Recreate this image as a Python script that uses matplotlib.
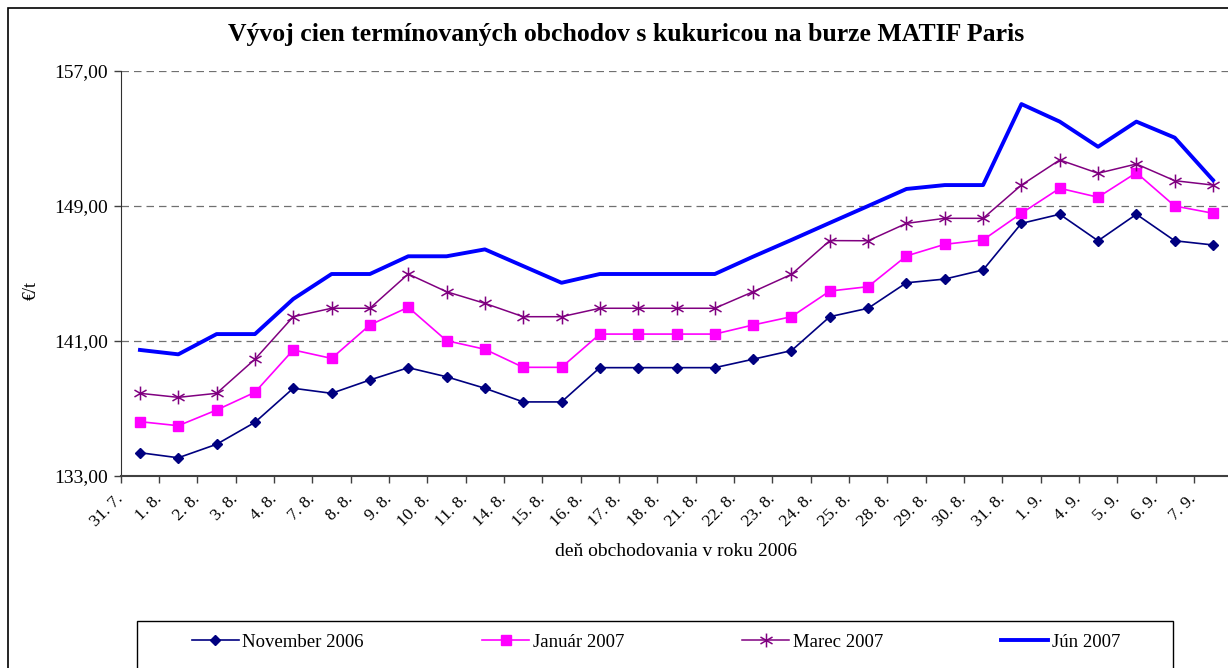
import matplotlib
matplotlib.use("Agg")
import matplotlib.pyplot as plt
from matplotlib.path import Path
from matplotlib.patches import Rectangle

# ---------------------------------------------------------------
# data (EUR/t)
# ---------------------------------------------------------------
dni = ["31. 7.", "1. 8.", "2. 8.", "3. 8.", "4. 8.", "7. 8.", "8. 8.", "9. 8.",
       "10. 8.", "11. 8.", "14. 8.", "15. 8.", "16. 8.", "17. 8.", "18. 8.",
       "21. 8.", "22. 8.", "23. 8.", "24. 8.", "25. 8.", "28. 8.", "29. 8.",
       "30. 8.", "31. 8.", "1. 9.", "4. 9.", "5. 9.", "6. 9.", "7. 9."]

november_2006 = [134.38, 134.08, 134.88, 136.18, 138.20, 137.90, 138.69, 139.42,
                 138.88, 138.20, 137.39, 137.39, 139.42, 139.42, 139.42, 139.42,
                 139.92, 140.43, 142.44, 142.94, 144.45, 144.67, 145.21, 147.97,
                 148.51, 146.94, 148.51, 146.94, 146.69]

januar_2007 = [136.22, 135.98, 136.91, 137.96, 140.47, 139.97, 141.95, 143.00,
               141.02, 140.51, 139.44, 139.44, 141.41, 141.41, 141.41, 141.41,
               141.95, 142.44, 143.96, 144.22, 146.04, 146.73, 146.99, 148.57,
               150.05, 149.52, 150.97, 149.00, 148.57]

marec_2007 = [137.90, 137.66, 137.90, 139.92, 142.44, 142.94, 142.94, 144.97,
              143.92, 143.23, 142.44, 142.44, 142.94, 142.94, 142.94, 142.94,
              143.92, 144.95, 146.95, 146.94, 147.97, 148.27, 148.27, 150.24,
              151.73, 150.94, 151.49, 150.50, 150.24]

jun_2007 = [140.47, 140.21, 141.41, 141.41, 143.49, 144.97, 144.97, 146.02,
            146.02, 146.43, 145.44, 144.45, 144.97, 144.97, 144.97, 144.97,
            146.00, 146.99, 148.00, 149.00, 150.01, 150.24, 150.24, 155.04,
            154.00, 152.51, 154.00, 153.05, 150.53]

y_ticks = [133, 141, 149, 157]

# ---------------------------------------------------------------
plt.rcParams["font.family"] = ["Liberation Serif", "DejaVu Serif"]

W, H = 1228, 668
fig = plt.figure(figsize=(W / 100, H / 100), dpi=100, facecolor="white")

# outer chart frame (cut off on the right and at the bottom like the original)
fig.patches.append(Rectangle((8 / W, -0.1), 1.1, 1.1 - 8 / H,
                             transform=fig.transFigure, fill=False,
                             edgecolor="black", linewidth=1.2))

ax = fig.add_axes([120.8 / W, (H - 476) / H, 1111.4 / W, 405 / H])
x = list(range(len(dni)))

# asterisk marker like Excel
star = Path([(0, -1), (0, 1), (-0.87, -0.5), (0.87, 0.5), (-0.87, 0.5), (0.87, -0.5)],
            [Path.MOVETO, Path.LINETO] * 3)

ax.plot(x, november_2006, color="#000080", linewidth=1.2, marker="D",
        markersize=5, label="November 2006", zorder=3)
ax.plot(x, januar_2007, color="#FF00FF", linewidth=1.2, marker="s",
        markersize=6.5, label="Január 2007", zorder=3)
ax.plot(x, marec_2007, color="#800080", linewidth=1.1, marker=star,
        markersize=10, markerfacecolor="none", markeredgewidth=1.1,
        label="Marec 2007", zorder=3)
ax.plot(x, jun_2007, color="#0000FF", linewidth=2.8, label="Jún 2007", zorder=3)

ax.set_xlim(-0.5, len(dni) - 0.5)
ax.set_ylim(133, 157)

# grid
for v in y_ticks[1:]:
    ax.axhline(v, color="#707070", linewidth=0.9, linestyle=(0, (6, 4)), zorder=1)

ax.set_yticks(y_ticks)
ax.set_yticklabels([f"{v:.2f}".replace(".", ",") for v in y_ticks], fontsize=14)
ax.tick_params(axis="y", direction="out", length=5, width=1, color="#404040", pad=4)

# ticks at category boundaries, labels anchored at boundary
bounds = [i - 0.5 for i in range(len(dni) + 1)]
ax.set_xticks(bounds)
ax.set_xticklabels(dni + [""], fontsize=12.5, rotation=45, ha="right",
                   va="center", rotation_mode="anchor")
ax.tick_params(axis="x", direction="out", length=5, width=1, color="#404040", pad=10)

for s in ["top", "right"]:
    ax.spines[s].set_visible(False)
ax.spines["left"].set_color("#303030")
ax.spines["bottom"].set_color("#404040")
ax.spines["bottom"].set_linewidth(1.5)

fig.text(626 / W, 1 - 34 / H, "Vývoj cien termínovaných obchodov s kukuricou na burze MATIF Paris",
         ha="center", va="center", fontsize=18.5, fontweight="bold")
fig.text(676 / W, 1 - 551 / H, "deň obchodovania v roku 2006",
         ha="center", va="center", fontsize=14)
fig.text(31 / W, 1 - 290 / H, "€/t", ha="center", va="center",
         rotation=90, fontsize=13)

# legend box
fig.patches.append(Rectangle((137 / W, -0.1), (1173 - 137) / W, 0.1 + (H - 621) / H,
                             transform=fig.transFigure, fill=False,
                             edgecolor="black", linewidth=1.0))
handles, labels = ax.get_legend_handles_labels()
fig.legend(handles, labels, loc="center", bbox_to_anchor=(656 / W, 1 - 642 / H),
           ncol=4, frameon=False, fontsize=13.5, handlelength=2.5,
           handletextpad=0.2, columnspacing=6.3)

fig.savefig("out.png", dpi=100, facecolor="white")
